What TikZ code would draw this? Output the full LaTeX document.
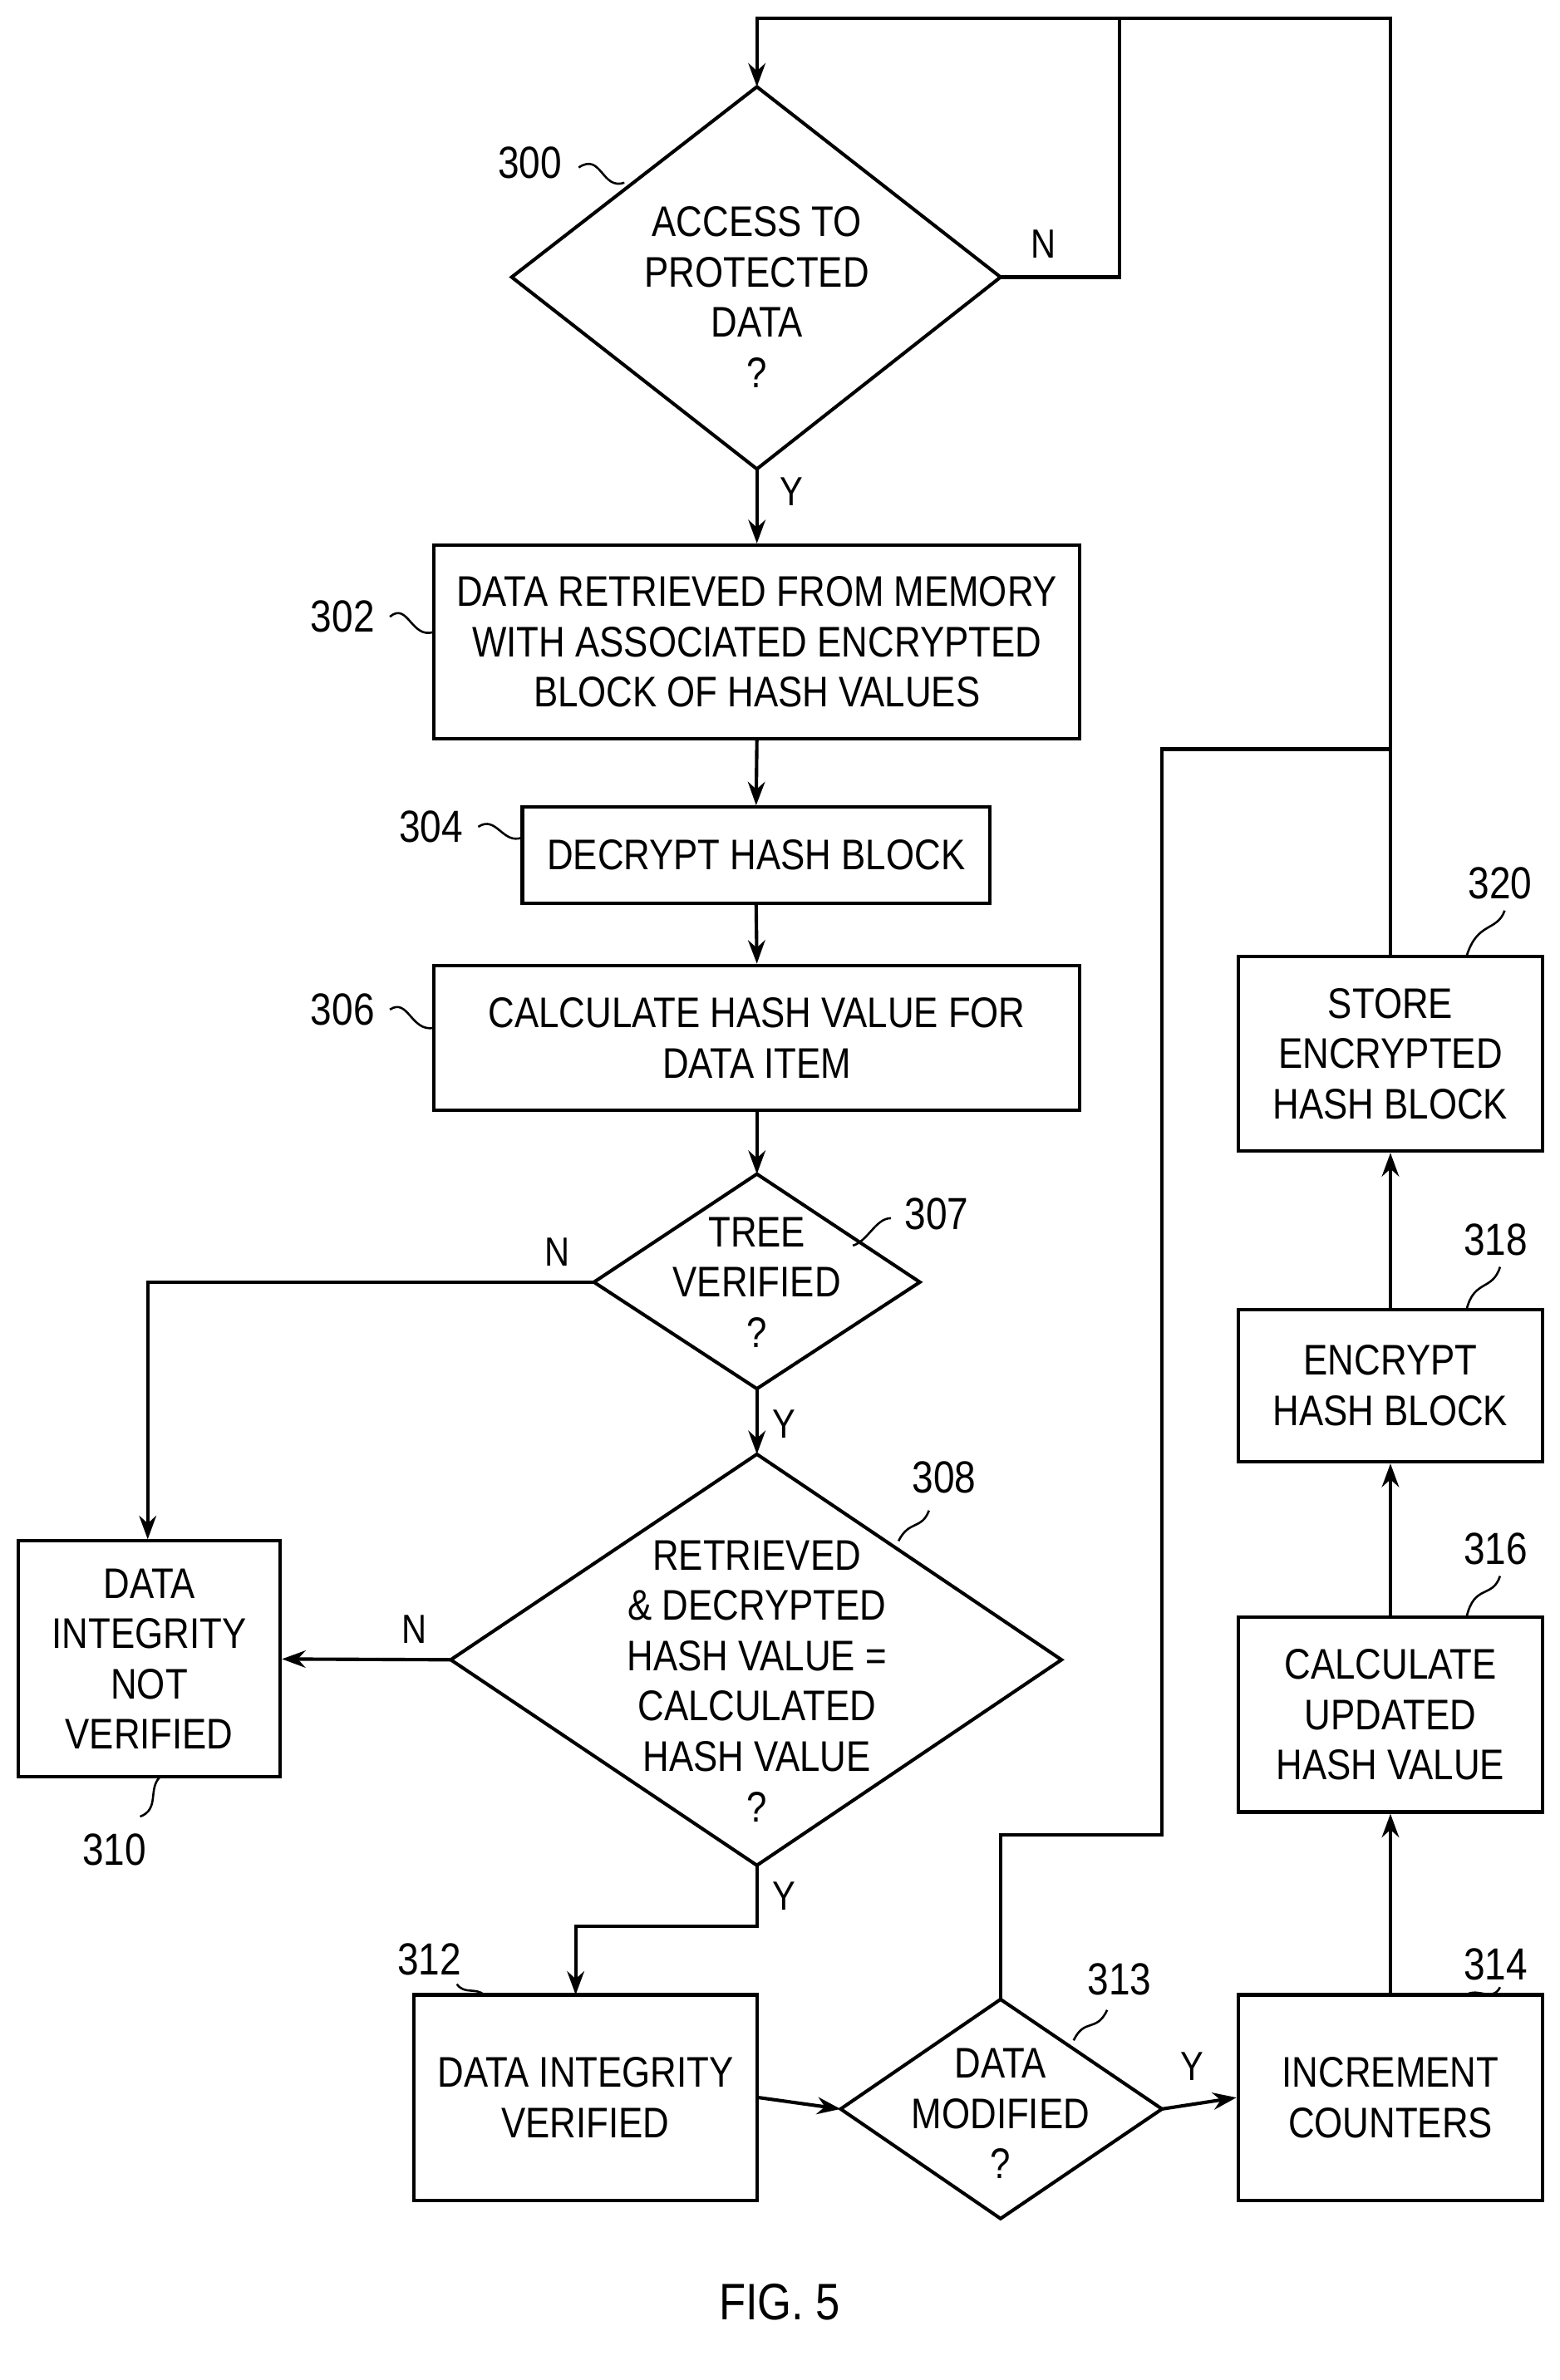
\documentclass[tikz,border=0pt]{standalone}
\usepackage{fontspec}
\setmainfont{Liberation Sans}[FakeStretch=0.85]
\usetikzlibrary{shapes.geometric,arrows.meta}
\begin{document}
\begin{tikzpicture}[x=0.025cm,y=-0.025cm,line width=1.6pt,
  txt/.style={font=\fontsize{20}{23.5}\selectfont,align=center},
  box/.style={draw,txt,rectangle,inner sep=0pt},
  lab/.style={font=\fontsize{21}{24}\selectfont},
  yn/.style={font=\fontsize{19}{22}\selectfont},
  arr/.style={-{Stealth[length=11pt,width=8pt]}},
  sq/.style={line width=1pt}]
\useasboundingbox (0,0) rectangle (1024,1563);
% diamonds as paths
\coordinate (d300c) at (497,182);
\draw (336,182)--(497,57)--(657,182)--(497,308)--cycle;
\node[txt] (t300) at (497,195) {ACCESS TO\\PROTECTED\\DATA\\?};
\draw (390,842)--(497,771)--(604,842)--(497,912)--cycle;
\node[txt] (t307) at (497,842) {TREE\\VERIFIED\\?};
\draw (296,1090)--(497,955)--(697,1090)--(497,1225)--cycle;
\node[txt] (t308) at (497,1104) {RETRIEVED\\\&\ DECRYPTED\\HASH VALUE =\\CALCULATED\\HASH VALUE\\?};
\draw (552,1385)--(657,1313)--(763,1385)--(657,1457)--cycle;
\node[txt] (t313) at (657,1388) {DATA\\MODIFIED\\?};
% coordinates of diamond corners
\coordinate (a300t) at (497,57); \coordinate (a300r) at (657,182); \coordinate (a300b) at (497,308);
\coordinate (a307t) at (497,771); \coordinate (a307l) at (390,842); \coordinate (a307b) at (497,912);
\coordinate (a308t) at (497,955); \coordinate (a308l) at (296,1090); \coordinate (a308b) at (497,1225);
\coordinate (a313t) at (657,1313); \coordinate (a313l) at (552,1385); \coordinate (a313r) at (763,1385);
% boxes
\node[box,minimum width=424*0.025cm,minimum height=127*0.025cm] (b302) at (497,421.5) {DATA RETRIEVED FROM MEMORY\\WITH ASSOCIATED ENCRYPTED\\BLOCK OF HASH VALUES};
\node[box,minimum width=307*0.025cm,minimum height=63*0.025cm] (b304) at (496.5,561.5) {DECRYPT HASH BLOCK};
\node[box,minimum width=424*0.025cm,minimum height=95*0.025cm] (b306) at (497,681.5) {CALCULATE HASH VALUE FOR\\DATA ITEM};
\node[box,minimum width=172*0.025cm,minimum height=155*0.025cm] (b310) at (98,1089.5) {DATA\\INTEGRITY\\NOT\\VERIFIED};
\node[box,minimum width=225*0.025cm,minimum height=135*0.025cm] (b312) at (384.5,1377.5) {DATA INTEGRITY\\VERIFIED};
\node[box,minimum width=200*0.025cm,minimum height=135*0.025cm] (b314) at (913,1377.5) {INCREMENT\\COUNTERS};
\node[box,minimum width=200*0.025cm,minimum height=128*0.025cm] (b316) at (913,1126) {CALCULATE\\UPDATED\\HASH VALUE};
\node[box,minimum width=200*0.025cm,minimum height=100*0.025cm] (b318) at (913,910) {ENCRYPT\\HASH BLOCK};
\node[box,minimum width=200*0.025cm,minimum height=128*0.025cm] (b320) at (913,692) {STORE\\ENCRYPTED\\HASH BLOCK};
% connectors
\coordinate (top1) at (913,12); \coordinate (top2) at (497,12); \coordinate (top3) at (735,12);
\draw[arr] (b320.north) -- (top1) -- (top2) -- (a300t);
\draw (a300r) -- (735,182) -- (top3);
\draw[arr] (a300b) -- (b302.north);
\draw[arr] (b302.south) -- (b304.north);
\draw[arr] (b304.south) -- (b306.north);
\draw[arr] (b306.south) -- (a307t);
\draw[arr] (a307l) -- (97,842) -- (b310.north -| 97,0);
\draw[arr] (a307b) -- (a308t);
\draw[arr] (a308l) -- (b310.east);
\draw[arr] (a308b) -- (497,1265) -- (378,1265) -- (378,1310);
\draw[arr] (b312.east) -- (a313l);
\draw[arr] (a313r) -- (b314.west);
\draw (a313t) -- (657,1205) -- (763,1205) -- (763,492) -- (913,492);
\draw[arr] (b314.north) -- (b316.south);
\draw[arr] (b316.north) -- (b318.south);
\draw[arr] (b318.north) -- (b320.south);
% Y/N
\node[yn] (n300) at (685,160) {N};
\node[yn] (y300) at (520,323) {Y};
\node[yn] (n307) at (366,822) {N};
\node[yn] (y307) at (515,935) {Y};
\node[yn] (n308) at (272,1070) {N};
\node[yn] (y308) at (515,1245) {Y};
\node[yn] (y313) at (783,1357) {Y};
% reference labels
\node[lab] (l300) at (348,107) {300};
\draw[sq] (380,110) .. controls (395,100) and (395,125) .. (410,120);
\node[lab] (l302) at (225,405) {302};
\draw[sq] (256,405) .. controls (268,395) and (270,420) .. (285,415);
\node[lab] (l304) at (283,543) {304};
\draw[sq] (314,543) .. controls (326,535) and (330,555) .. (343,550);
\node[lab] (l306) at (225,663) {306};
\draw[sq] (256,663) .. controls (268,655) and (270,678) .. (285,675);
\node[lab] (l307) at (615,797) {307};
\draw[sq] (585,800) .. controls (575,800) and (570,815) .. (560,818);
\node[lab] (l308) at (620,970) {308};
\draw[sq] (610,992) .. controls (605,1005) and (597,998) .. (590,1012);
\node[lab] (l310) at (75,1215) {310};
\draw[sq] (92,1193) .. controls (105,1188) and (97,1175) .. (105,1167);
\node[lab] (l312) at (282,1287) {312};
\draw[sq] (300,1303) .. controls (305,1310) and (312,1305) .. (318,1310);
\node[lab] (l313) at (735,1300) {313};
\draw[sq] (727,1320) .. controls (720,1335) and (712,1325) .. (705,1340);
\node[lab] (l314) at (982,1290) {314};
\draw[sq] (985,1305) .. controls (980,1315) and (970,1305) .. (963,1310);
\node[lab] (l316) at (982,1017) {316};
\draw[sq] (985,1035) .. controls (980,1050) and (968,1040) .. (963,1062);
\node[lab] (l318) at (982,814) {318};
\draw[sq] (985,832) .. controls (980,848) and (968,840) .. (963,860);
\node[lab] (l320) at (985,580) {320};
\draw[sq] (988,598) .. controls (983,612) and (970,605) .. (963,628);
\node[font=\fontsize{24}{28}\selectfont] (fig) at (512,1512) {FIG. 5};
\end{tikzpicture}
\end{document}
